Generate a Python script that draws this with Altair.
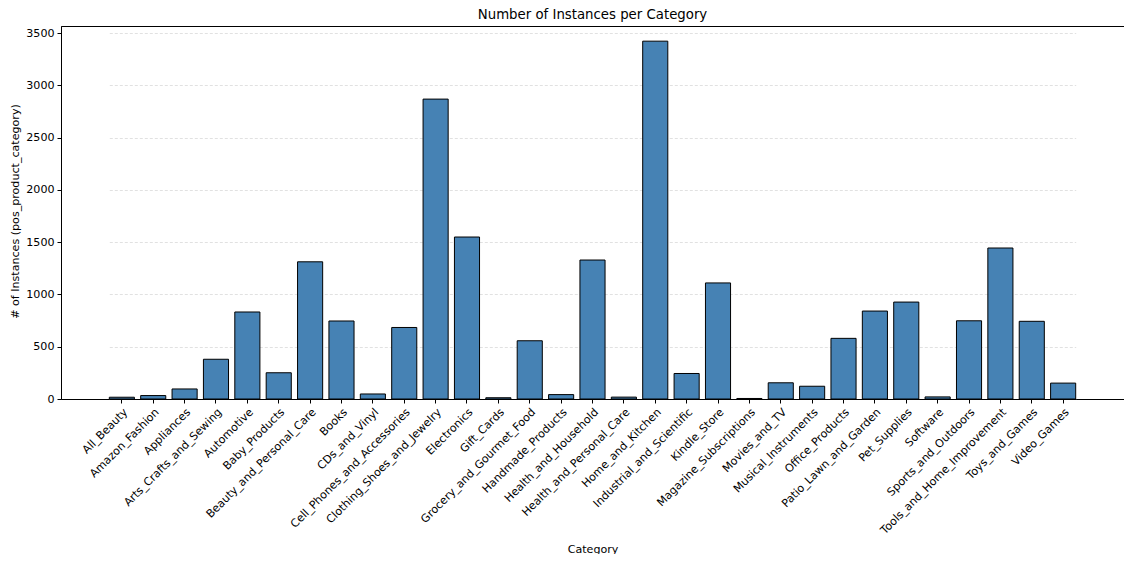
import altair as alt
import pandas as pd

categories = [
    "All_Beauty", "Amazon_Fashion", "Appliances", "Arts_Crafts_and_Sewing", "Automotive",
    "Baby_Products", "Beauty_and_Personal_Care", "Books", "CDs_and_Vinyl",
    "Cell_Phones_and_Accessories", "Clothing_Shoes_and_Jewelry", "Electronics", "Gift_Cards",
    "Grocery_and_Gourmet_Food", "Handmade_Products", "Health_and_Household",
    "Health_and_Personal_Care", "Home_and_Kitchen", "Industrial_and_Scientific", "Kindle_Store",
    "Magazine_Subscriptions", "Movies_and_TV", "Musical_Instruments", "Office_Products",
    "Patio_Lawn_and_Garden", "Pet_Supplies", "Software", "Sports_and_Outdoors",
    "Tools_and_Home_Improvement", "Toys_and_Games", "Video_Games",
]
counts = [
    17, 33, 96, 380, 832,
    251, 1312, 746, 48,
    684, 2868, 1549, 12,
    557, 42, 1329,
    18, 3422, 244, 1110,
    5, 155, 122, 580,
    841, 927, 20, 748,
    1444, 743, 152,
]
y_ticks = [0, 500, 1000, 1500, 2000, 2500, 3000, 3500]

df = pd.DataFrame({"Category": categories, "Count": counts})

FONT = "DejaVu Sans"
FS = 11.1
W, H = 1063, 373

chart = (
    alt.Chart(df)
    .mark_bar(color="#4682b4", stroke="black", strokeWidth=1)
    .encode(
        x=alt.X(
            "Category:N",
            sort=None,
            scale=alt.Scale(paddingInner=0.2, paddingOuter=0, range=[48.3, 1014.7]),
            axis=alt.Axis(
                title="Category",
                labelAngle=-45,
                labelAlign="right",
                labelBaseline="top",
                labelPadding=3,
                labelFontSize=FS,
                labelColor="black",
                labelFont=FONT,
                tickColor="black",
                tickSize=4,
                domainColor="black",
                grid=False,
                titleFont=FONT,
                titleFontSize=FS,
                titleFontWeight="normal",
                titleColor="black",
                titleX=W / 2,
                titleY=150,
                titleAlign="center",
                titleBaseline="middle",
            ),
        ),
        y=alt.Y(
            "Count:Q",
            scale=alt.Scale(domain=[0, 3567], nice=False),
            axis=alt.Axis(
                title="# of Instances (pos_product_category)",
                values=y_ticks,
                format="d",
                labelFontSize=FS,
                labelColor="black",
                labelFont=FONT,
                labelPadding=3,
                tickColor="black",
                tickSize=4,
                domainColor="black",
                grid=True,
                gridColor="#d9d9d9",
                gridDash=[3, 2],
                gridWidth=0.8,
                titleFont=FONT,
                titleFontSize=FS,
                titleFontWeight="normal",
                titleColor="black",
                titleX=-46,
                titleY=185,
                titleAngle=-90,
                titleAlign="center",
                titleBaseline="middle",
            ),
        ),
    )
    .properties(
        width=W,
        height=H,
        title=alt.TitleParams(
            "Number of Instances per Category",
            font=FONT,
            fontSize=13.3,
            fontWeight="normal",
            color="black",
            anchor="middle",
            offset=5,
        ),
        padding={"left": 53, "top": 18, "right": 0, "bottom": 155},
        autosize=alt.AutoSizeParams(type="none"),
    )
    .configure_view(stroke="black", strokeWidth=1)
)

chart.save("out.html", embed_options={"renderer": "svg", "actions": False})
